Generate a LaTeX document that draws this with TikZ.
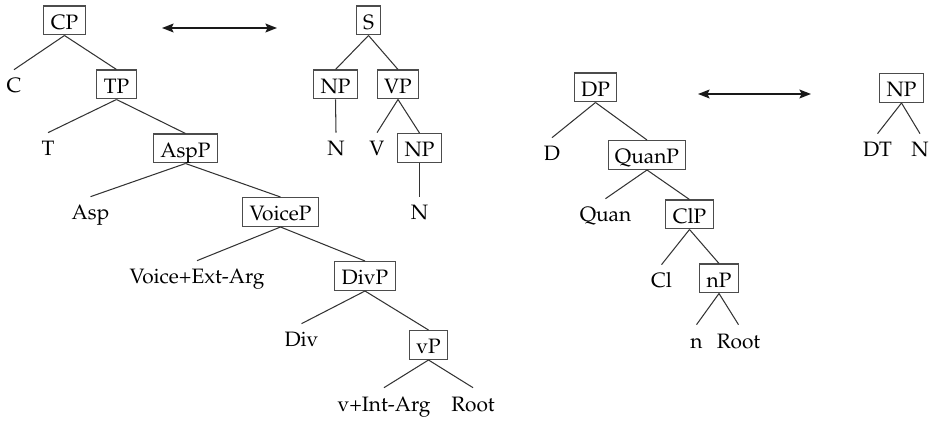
\documentclass[tikz,border=0pt]{standalone}
\usepackage[T1]{fontenc}
\usepackage{mathpazo}
\usetikzlibrary{arrows.meta}
\begin{document}
\begin{tikzpicture}[x=0.48pt,y=-0.48pt,
  cat/.style={draw=black!70,line width=0.5pt,inner xsep=3.3pt,inner ysep=2.2pt,text height=8.9pt,text depth=0.6pt},
  leaf/.style={anchor=base,inner xsep=1pt,inner ysep=4pt,text height=7pt,text depth=0pt},
  br/.style={draw=black!80,line width=0.5pt},
  dbl/.style={draw=black!90,line width=0.9pt,{Stealth[length=5.5pt,width=4.2pt,inset=1pt]}-{Stealth[length=5.5pt,width=4.2pt,inset=1pt]}}]
\useasboundingbox (0,0) rectangle (933,421);
% ---- CP tree
\node[cat] (cp) at (64.5,20.5) {CP};
\node[leaf] (c) at (14,93) {C};
\node[cat] (tp) at (116.5,84.5) {TP};
\node[leaf] (t) at (48,156) {T};
\node[cat] (aspp) at (185.5,148.5) {AspP};
\node[leaf] (asp) at (90.5,220) {Asp};
\node[cat] (voicep) at (280.5,212) {VoiceP};
\node[leaf] (voice) at (197,284) {Voice+Ext-Arg};
\node[cat] (divp) at (365,276) {DivP};
\node[leaf] (div) at (301.5,347) {Div};
\node[cat] (vp) at (428.5,345) {vP};
\node[leaf] (vint) at (384,411) {v+Int-Arg};
\node[leaf] (root1) at (473,411) {Root};
\draw[br] (cp.south) -- (c.north);
\draw[br] (cp.south) -- (tp.north);
\draw[br] (tp.south) -- (t.north);
\draw[br] (tp.south) -- (aspp.north);
\draw[br] (aspp.south) -- (asp.north);
\draw[br] (aspp.south) -- (voicep.north);
\draw[br] (voicep.south) -- (voice.north);
\draw[br] (voicep.south) -- (divp.north);
\draw[br] (divp.south) -- (div.north);
\draw[br] (divp.south) -- (vp.north);
\draw[br] (vp.south) -- (vint.north);
\draw[br] (vp.south) -- (root1.north);
% ---- arrow 1
\coordinate (a1l) at (162,28);
\coordinate (a1r) at (277,28);
\draw[dbl] (a1l) -- (a1r);
% ---- S tree
\node[cat] (s) at (368.5,20.5) {S};
\node[cat] (np1) at (335.5,84.5) {NP};
\node[cat] (vpp) at (398,84.5) {VP};
\node[leaf] (n1) at (336,156) {N};
\node[leaf] (v) at (377,156) {V};
\node[cat] (np2) at (419.5,148) {NP};
\node[leaf] (n2) at (419.5,220) {N};
\draw[br] (s.south) -- (np1.north);
\draw[br] (s.south) -- (vpp.north);
\draw[br] (np1.south) -- (n1.north);
\draw[br] (vpp.south) -- (v.north);
\draw[br] (vpp.south) -- (np2.north);
\draw[br] (np2.south) -- (n2.north);
% ---- DP tree
\node[cat] (dp) at (595.5,87.5) {DP};
\node[leaf] (d) at (552,161) {D};
\node[cat] (quanp) at (647,155) {QuanP};
\node[leaf] (quan) at (605.5,222) {Quan};
\node[cat] (clp) at (689.5,214.5) {ClP};
\node[leaf] (cl) at (661.5,288) {Cl};
\node[cat] (np3) at (719,278.5) {nP};
\node[leaf] (n3) at (696.5,348) {n};
\node[leaf] (root2) at (738.5,348) {Root};
\draw[br] (dp.south) -- (d.north);
\draw[br] (dp.south) -- (quanp.north);
\draw[br] (quanp.south) -- (quan.north);
\draw[br] (quanp.south) -- (clp.north);
\draw[br] (clp.south) -- (cl.north);
\draw[br] (clp.south) -- (np3.north);
\draw[br] (np3.south) -- (n3.north);
\draw[br] (np3.south) -- (root2.north);
% ---- arrow 2
\coordinate (a2l) at (698,94);
\coordinate (a2r) at (811,94);
\draw[dbl] (a2l) -- (a2r);
% ---- NP tree
\node[cat] (np4) at (901.5,88) {NP};
\node[leaf] (dt) at (877.5,157) {DT};
\node[leaf] (n4) at (920,157) {N};
\draw[br] (np4.south) -- (dt.north);
\draw[br] (np4.south) -- (n4.north);
\end{tikzpicture}
\end{document}
